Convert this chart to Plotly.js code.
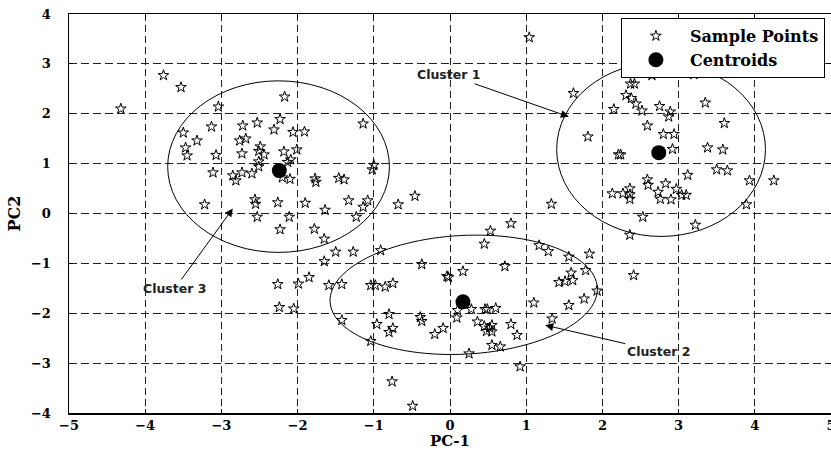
<!DOCTYPE html>
<html><head><meta charset="utf-8">
<script src="https://cdn.plot.ly/plotly-3.0.1.min.js"></script>
<style>html,body{margin:0;padding:0;background:#fff}#chart{width:831px;height:450px}</style>
</head><body><div id="chart"></div>
<script>
// Sample points (PC-1, PC-2)
const sampleX = [
-4.32,-3.76,-3.53,-3.04,-2.17,-3.50,-3.13,-3.32,-3.47,-3.45,-3.07,-2.72,-2.53,-2.23,-2.31,-2.06,-1.91,-2.76,-2.68,-2.73,-2.49,-2.51,-2.44,-2.18,-2.01,-2.09,-2.13,-2.51,-2.51,-3.11,-2.85,-2.81,-2.73,-2.60,-2.20,-2.10,-1.77,-1.76,-1.46,-1.39,-3.22,-2.56,-2.55,-2.26,-1.90,-1.64,
1.04,1.62,1.81,-1.14,-1.00,-1.02,-1.33,-1.08,-1.14,-0.68,-0.46,1.33,
2.65,3.20,2.37,2.42,2.31,2.38,2.44,2.15,2.52,2.75,2.89,2.87,3.35,2.59,3.60,2.80,2.94,2.92,3.38,3.58,2.21,2.24,3.50,3.64,3.12,3.93,4.25,2.59,2.60,2.83,2.97,2.73,2.76,2.90,3.04,3.10,2.13,2.27,2.36,2.36,2.36,3.89,
-2.53,-2.11,-2.23,-1.78,-1.65,-1.50,-1.65,-2.26,-1.99,-1.85,-1.59,-1.42,-2.24,-2.05,-1.42,
-1.23,0.80,0.53,0.45,-1.27,-0.91,1.17,1.29,1.56,1.83,-0.37,0.72,0.17,-0.04,-0.02,1.59,1.78,1.43,1.51,1.61,1.93,1.76,1.56,1.10,1.34,-1.04,-0.98,-0.85,-0.75,-0.80,-0.96,-0.75,-0.80,-1.04,-0.39,-0.37,-0.20,-0.09,0.10,0.09,0.28,0.46,0.49,0.60,0.36,0.45,0.55,0.48,0.55,0.52,0.80,0.88,0.55,0.66,0.25,0.92,-0.76,-0.49,
2.53,2.36,3.22,2.41
];
const sampleY = [
2.10,2.77,2.53,2.14,2.34,1.62,1.74,1.46,1.32,1.16,1.17,1.76,1.82,1.89,1.68,1.63,1.64,1.46,1.50,1.20,1.34,1.25,1.18,1.24,1.28,1.08,1.03,1.04,0.94,0.82,0.76,0.66,0.82,0.80,0.72,0.69,0.70,0.63,0.71,0.68,0.18,0.28,0.19,0.22,0.21,0.07,
3.53,2.41,1.54,1.80,0.97,0.88,0.26,0.26,0.13,0.18,0.35,0.19,
2.77,2.79,2.60,2.60,2.37,2.31,2.20,2.09,2.06,2.15,2.04,1.94,2.22,1.76,1.81,1.59,1.59,1.29,1.32,1.28,1.18,1.18,0.88,0.86,0.77,0.66,0.66,0.68,0.57,0.60,0.49,0.43,0.29,0.28,0.37,0.37,0.40,0.40,0.50,0.38,0.29,0.18,
-0.07,-0.07,-0.32,-0.31,-0.51,-0.77,-0.96,-1.42,-1.41,-1.28,-1.44,-1.42,-1.88,-1.91,-2.14,
-0.07,-0.20,-0.35,-0.61,-0.77,-0.74,-0.64,-0.76,-0.87,-0.81,-1.02,-1.06,-1.16,-1.26,-1.28,-1.19,-1.14,-1.38,-1.36,-1.34,-1.55,-1.71,-1.84,-1.79,-2.11,-1.44,-1.44,-1.47,-1.40,-2.02,-2.22,-2.30,-2.38,-2.56,-2.08,-2.16,-2.42,-2.30,-1.94,-2.09,-1.92,-1.92,-1.92,-1.90,-2.17,-2.26,-2.24,-2.36,-2.37,-2.29,-2.22,-2.44,-2.64,-2.67,-2.81,-3.07,-3.37,-3.86,
-0.07,-0.43,-0.23,-1.24
];
// Centroids
const centroidX = [2.74, 0.17, -2.24];
const centroidY = [1.22, -1.77, 0.86];
// Cluster boundary ellipses (cluster 1, 2, 3)
const ellipseCX = [2.77, 0.18, -2.25];
const ellipseCY = [1.285, -1.63, 0.94];
const ellipseRX = [1.37, 1.756, 1.455];
const ellipseRY = [1.745, 1.19, 1.72];
const ellipseTiltDeg = [0, 3, 0];
// Cluster labels and the points their arrows indicate
const clusterLabels = ['Cluster 1', 'Cluster 2', 'Cluster 3'];
const arrowTipX = [1.56, 1.25, -2.85];
const arrowTipY = [1.94, -2.24, 0.10];
const xTickVals = [-5,-4,-3,-2,-1,0,1,2,3,4,5];
const yTickVals = [-4,-3,-2,-1,0,1,2,3,4];

const W = 831, H = 450;
const M = {l: 69, r: 0, t: 14, b: 37};
const plotW = W - M.l - M.r, plotH = H - M.t - M.b;
const sx = plotW / 10, sy = plotH / 8;

const serif = {family: 'DejaVu Serif', color: '#000', weight: 'bold'};
const shapes = [];
for (let i = 0; i < ellipseCX.length; i++) {
  if (ellipseTiltDeg[i] === 0) {
    shapes.push({type: 'circle', xref: 'x', yref: 'y',
      x0: ellipseCX[i] - ellipseRX[i], x1: ellipseCX[i] + ellipseRX[i],
      y0: ellipseCY[i] - ellipseRY[i], y1: ellipseCY[i] + ellipseRY[i],
      line: {color: '#000', width: 1}});
  } else {
    const th = ellipseTiltDeg[i] * Math.PI / 180;
    const a = ellipseRX[i] * sx, b = ellipseRY[i] * sy;
    let p = '';
    for (let k = 0; k <= 120; k++) {
      const t = 2 * Math.PI * k / 120;
      const u = a * Math.cos(t), v = b * Math.sin(t);
      const X = u * Math.cos(th) - v * Math.sin(th);
      const Y = u * Math.sin(th) + v * Math.cos(th);
      p += (k === 0 ? 'M' : 'L') + (ellipseCX[i] + X / sx).toFixed(4) + ',' + (ellipseCY[i] + Y / sy).toFixed(4);
    }
    p += 'Z';
    shapes.push({type: 'path', xref: 'x', yref: 'y', path: p, line: {color: '#000', width: 1}});
  }
}
const offsets = [[-120, -42], [113, 26], [-58, 80]];
const annotations = clusterLabels.map((lab, i) => ({
  x: arrowTipX[i], y: arrowTipY[i], xref: 'x', yref: 'y',
  text: lab, showarrow: true, ax: offsets[i][0], ay: offsets[i][1],
  arrowhead: 2, arrowsize: 1.6, arrowwidth: 1, arrowcolor: '#000',
  font: {family: 'DejaVu Sans', size: 12.5, color: '#222', weight: 'bold'}
}));

const traces = [
  {type: 'scatter', mode: 'markers', name: 'Sample Points', x: sampleX, y: sampleY,
   marker: {symbol: 'star-open', size: 8, color: '#000', line: {width: 1, color: '#000'}}},
  {type: 'scatter', mode: 'markers', name: 'Centroids', x: centroidX, y: centroidY,
   marker: {symbol: 'circle', size: 15, color: '#000'}}
];
const axisCommon = {
  showgrid: true, gridcolor: '#222', gridwidth: 1, zeroline: false,
  showline: true, linecolor: '#000', linewidth: 1.5, mirror: 'ticks',
  ticks: 'inside', ticklen: 4, tickcolor: '#000',
  tickfont: Object.assign({size: 13}, serif)
};
const layout = {
  width: W, height: H, margin: M, paper_bgcolor: '#fff', plot_bgcolor: '#fff',
  showlegend: true,
  legend: {x: 0.992, y: 0.99, xanchor: 'right', yanchor: 'top', bgcolor: '#fff',
    bordercolor: '#000', borderwidth: 1, font: Object.assign({size: 16}, serif),
    itemwidth: 58, tracegroupgap: 0},
  xaxis: Object.assign({}, axisCommon, {range: [-5, 5], tickvals: xTickVals, griddash: '7px,4px',
    ticklabelstandoff: 0, ticklabeloverflow: 'allow',
    title: {text: 'PC-1', font: Object.assign({size: 15}, serif), standoff: 12}}),
  yaxis: Object.assign({}, axisCommon, {range: [-4, 4], tickvals: yTickVals, griddash: '8px,4px',
    ticklabelstandoff: 14,
    title: {text: 'PC2', font: Object.assign({size: 16}, serif), standoff: 6}}),
  shapes: shapes, annotations: annotations
};
Plotly.newPlot('chart', traces, layout, {displayModeBar: false, staticPlot: true});
</script></body></html>
